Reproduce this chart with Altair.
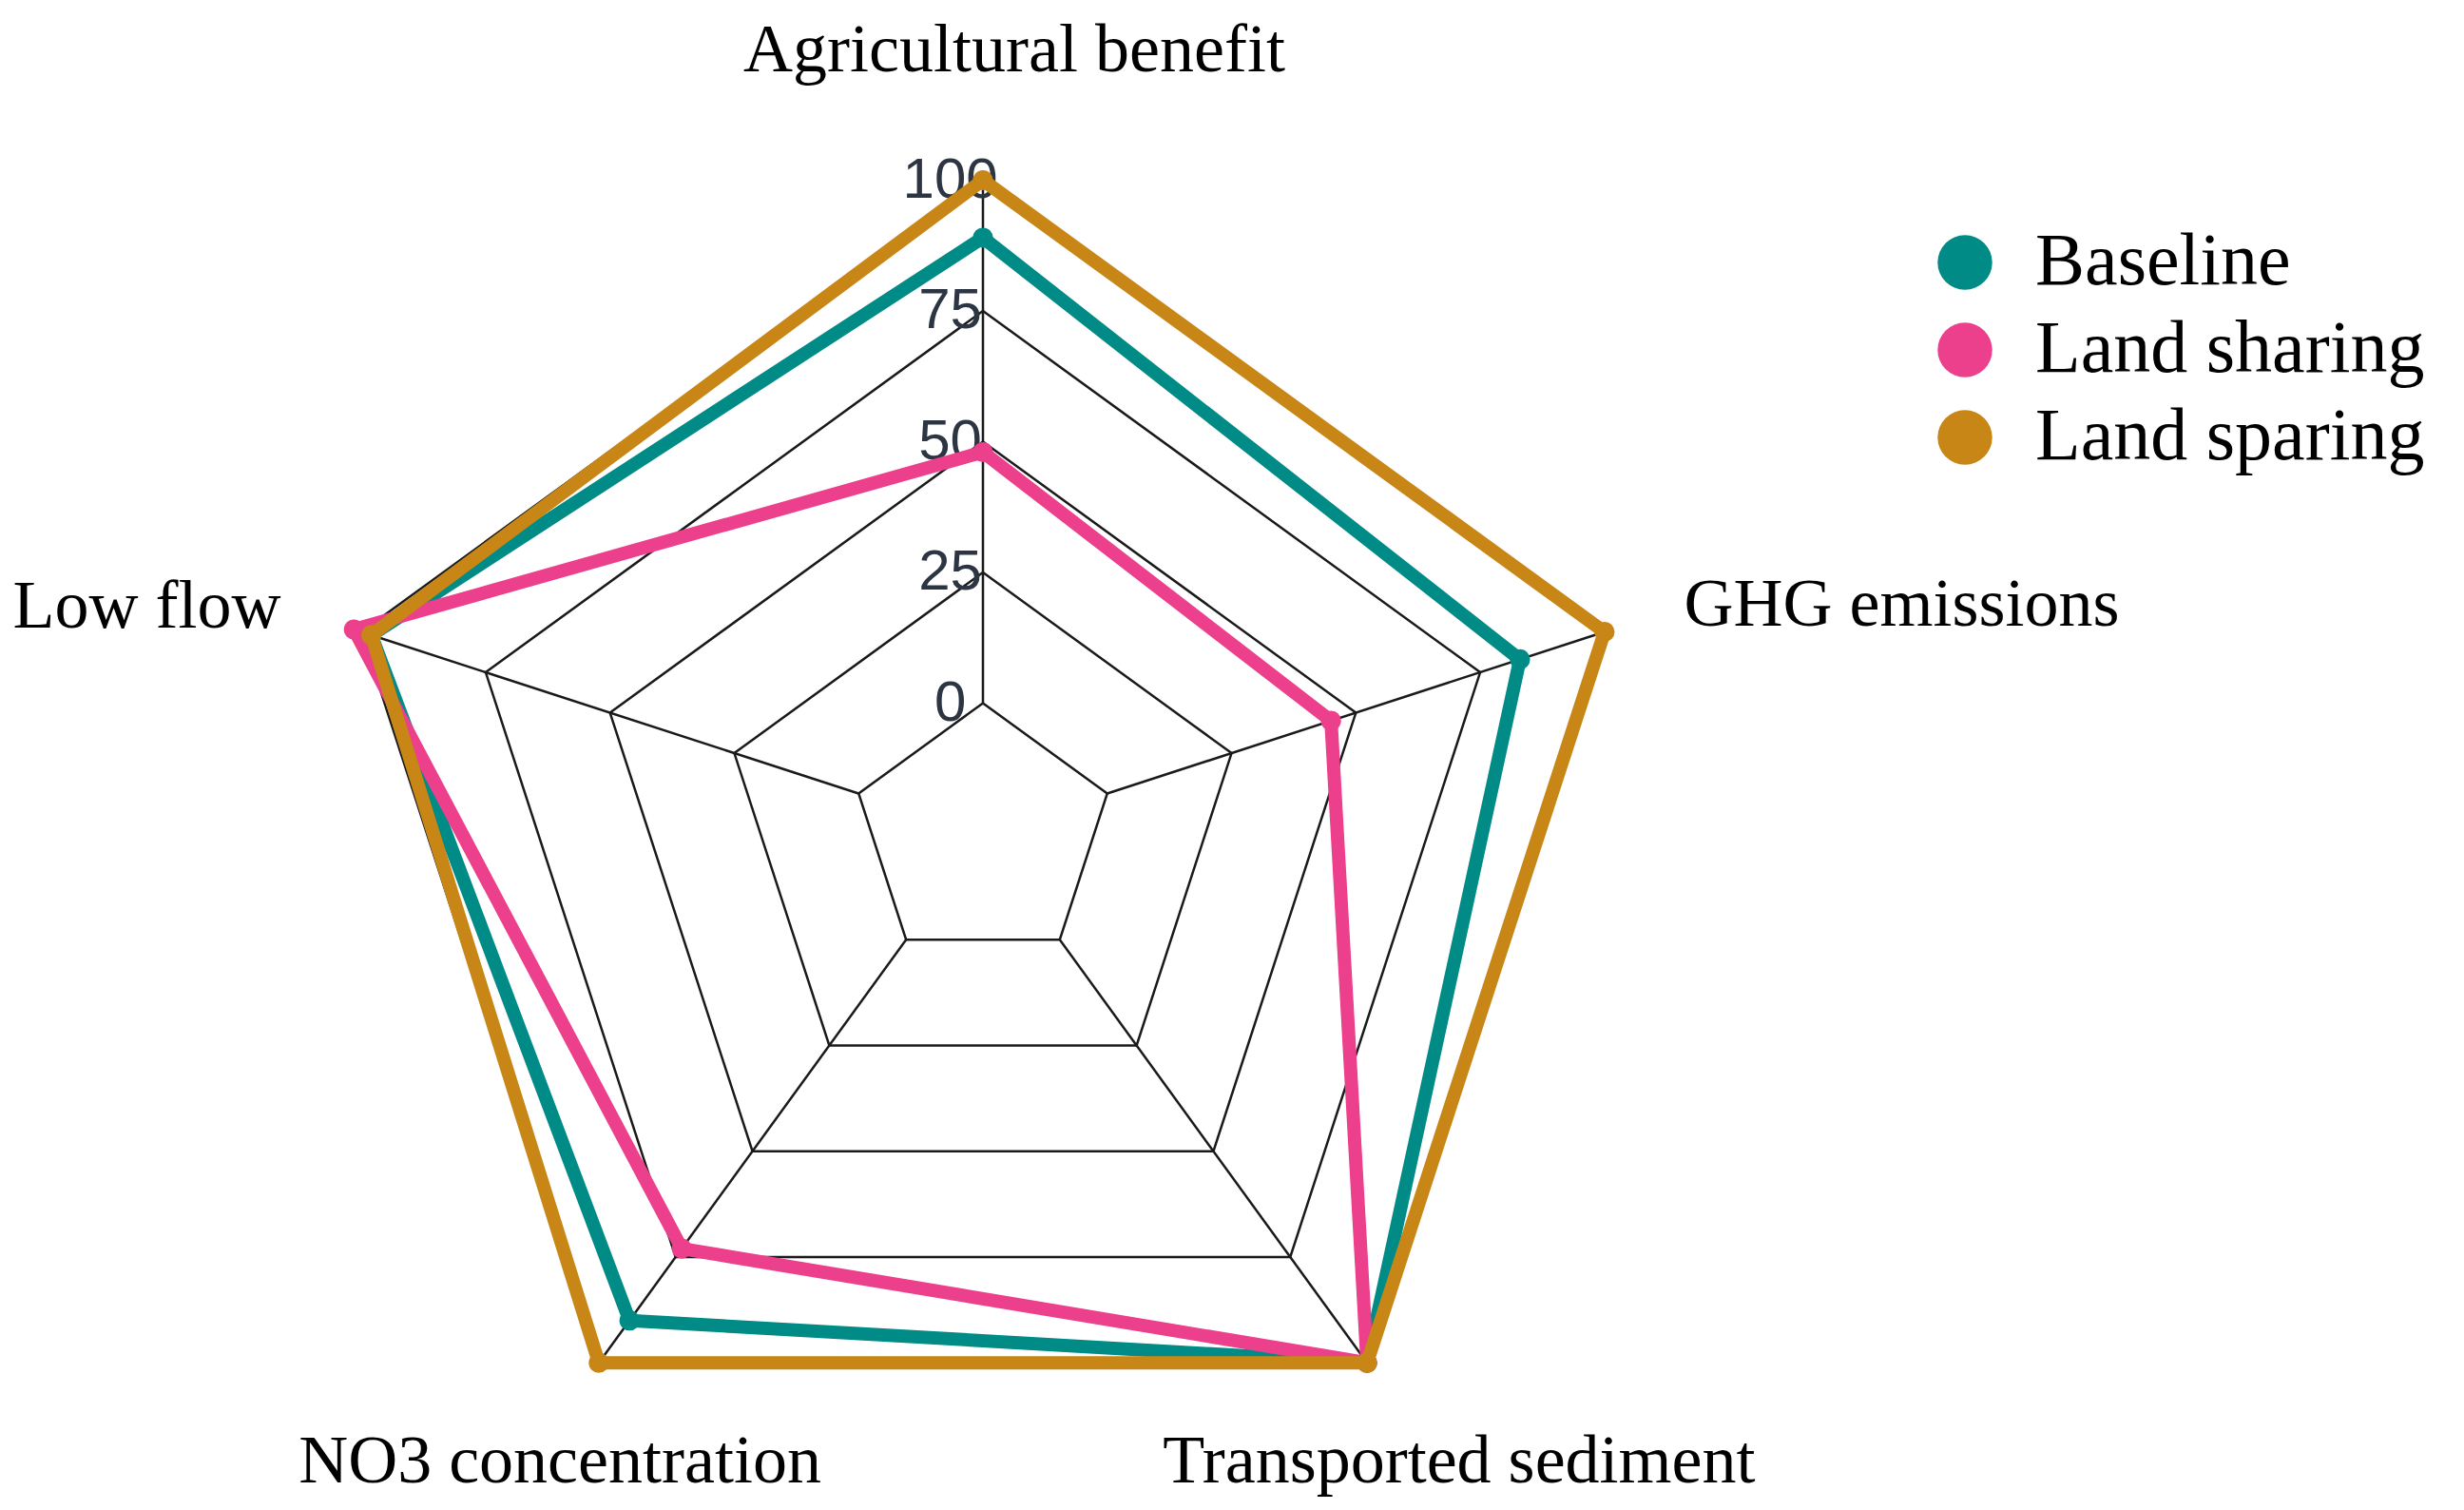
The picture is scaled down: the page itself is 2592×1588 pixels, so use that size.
import altair as alt
import pandas as pd

# ---- data ----
axes_names = ["Agricultural benefit", "GHG emissions", "Transported sediment",
              "NO3 concentration", "Low flow"]
series_names = ["Baseline", "Land sharing", "Land sparing"]
baseline = [89, 83, 100, 90, 98]
land_sharing = [48, 45, 100, 73, 101.5]
land_sparing = [100, 100, 100, 100, 98]
grid_levels = [0, 25, 50, 75, 100]
tick_labels = ["0", "25", "50", "75", "100"]
colors = ["#008B87", "#EC3F8C", "#C88617"]

# ---- tables built from the lists ----
rows = []
for s, vals in zip(series_names, [baseline, land_sharing, land_sparing]):
    for k in range(6):  # closing point repeats the first axis
        i = k % 5
        rows.append({"series": s, "axis": axes_names[i], "idx": i, "ord": k, "value": vals[i]})
data = pd.DataFrame(rows)

grid = pd.DataFrame([{"level": lv, "idx": k % 5, "ord": k} for lv in grid_levels for k in range(6)])
spokes = pd.DataFrame({"axis": axes_names, "idx": list(range(5))})
ticks = pd.DataFrame({"label": tick_labels, "level": grid_levels})

# ---- layout (pixel scale) ----
U = 137.5
W, H = 2576, 1570
XMIN = -(1034 - 8) / U
XMAX = XMIN + W / U
YMAX = (877 - 8) / U
YMIN = YMAX - H / U

xs = alt.Scale(domain=[XMIN, XMAX], nice=False, zero=False)
ys = alt.Scale(domain=[YMIN, YMAX], nice=False, zero=False)
X = lambda f: alt.X(f, type="quantitative", scale=xs, axis=None)
Y = lambda f: alt.Y(f, type="quantitative", scale=ys, axis=None)

ANG = "2*PI*datum.idx/5"

# grid pentagons
grid_layer = alt.Chart(grid).transform_calculate(
    r="1 + datum.level/25", ang=ANG
).transform_calculate(
    x="datum.r*sin(datum.ang)", y="datum.r*cos(datum.ang)"
).mark_line(color="#1a1a1a", strokeWidth=2.5).encode(
    x=X("x"), y=Y("y"), detail="level:N", order="ord:Q"
)

# spokes
spoke_layer = alt.Chart(spokes).transform_calculate(
    ang=ANG
).transform_calculate(
    x="sin(datum.ang)", y="cos(datum.ang)",
    x2="5*sin(datum.ang)", y2="5*cos(datum.ang)"
).mark_rule(color="#1a1a1a", strokeWidth=2.5).encode(
    x=X("x"), y=Y("y"), x2="x2:Q", y2="y2:Q"
)

# tick labels
tick_layer = alt.Chart(ticks).transform_calculate(
    x="-0.25", y="1 + datum.level/25"
).mark_text(font="Liberation Sans", fontSize=60, color="#2E3542",
            align="center", baseline="middle").encode(
    x=X("x"), y=Y("y"), text="label:N"
)

# axis labels
label_specs = [
    ("center", 33, 23),
    ("left", -47, 36),
    ("center", 16, 15),
    ("center", 40, 15),
    ("right", 46, 38),
]
label_layers = []
for i, (al, ddx, ddy) in enumerate(label_specs):
    label_layers.append(
        alt.Chart(spokes).transform_filter(f"datum.idx == {i}").transform_calculate(
            ang=ANG
        ).transform_calculate(
            x="6*sin(datum.ang)", y="6*cos(datum.ang)"
        ).mark_text(font="Liberation Serif", fontSize=72, color="black",
                    align=al, baseline="alphabetic", dx=ddx, dy=ddy).encode(
            x=X("x"), y=Y("y"), text="axis:N"
        )
    )

# data series
legend = alt.Legend(title=None, orient="none", legendX=2020, legendY=229,
                    symbolType="circle", symbolSize=3300, symbolStrokeWidth=0,
                    labelFont="Liberation Serif", labelFontSize=78, labelColor="black",
                    labelOffset=35, rowPadding=14, labelLimit=1000)
cscale = alt.Scale(domain=series_names, range=colors)

series_layers = []
for s in series_names:
    base = alt.Chart(data).transform_filter(alt.datum.series == s).transform_calculate(
        r="1 + datum.value/25", ang=ANG
    ).transform_calculate(
        x="datum.r*sin(datum.ang)", y="datum.r*cos(datum.ang)"
    )
    series_layers.append(
        base.mark_line(strokeWidth=14, strokeJoin="round").encode(
            x=X("x"), y=Y("y"), order="ord:Q",
            stroke=alt.Stroke("series:N", scale=cscale, legend=legend)
        )
    )
    series_layers.append(
        base.transform_filter("datum.ord < 5").mark_circle(size=450, opacity=1).encode(
            x=X("x"), y=Y("y"),
            color=alt.Color("series:N", scale=cscale, legend=legend)
        )
    )

chart = alt.layer(
    grid_layer, spoke_layer, tick_layer, *label_layers, *series_layers
).properties(
    width=W, height=H, padding=0,
    autosize=alt.AutoSizeParams(type="none")
).configure_view(stroke=None)

chart.save("out.html", embed_options={"renderer": "svg", "actions": False})
